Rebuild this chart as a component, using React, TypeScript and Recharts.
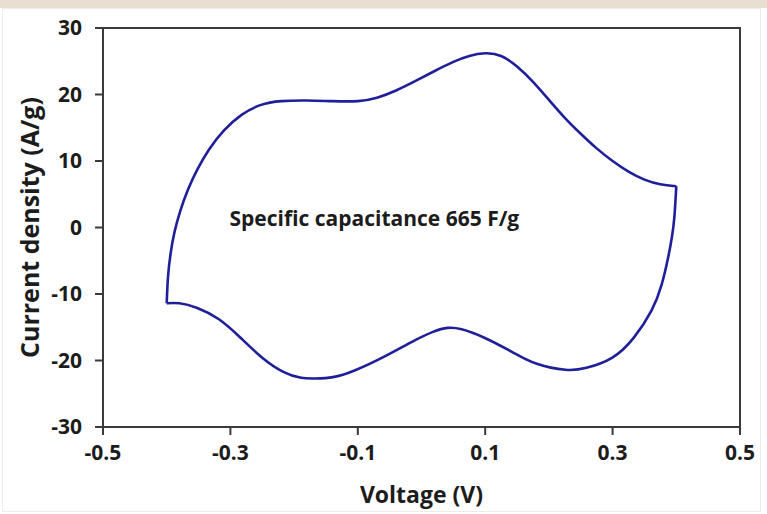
import React from "react";
import { LineChart, Line, XAxis, YAxis, ReferenceArea, ReferenceDot } from "recharts";

// Anodic (upper) branch, -0.4 V -> 0.4 V
const upperVoltage = [-0.4, -0.398, -0.394, -0.388, -0.379, -0.367, -0.352, -0.333, -0.31, -0.283, -0.253, -0.22, -0.18, -0.14, -0.1, -0.07, -0.04, -0.01, 0.02, 0.05, 0.075, 0.1, 0.125, 0.15, 0.175, 0.2, 0.225, 0.25, 0.275, 0.3, 0.325, 0.35, 0.375, 0.4];
const upperCurrent = [-11.4, -7.5, -4.0, -0.8, 2.4, 5.6, 8.7, 11.8, 14.6, 16.9, 18.4, 19.0, 19.1, 19.0, 19.0, 19.5, 20.6, 22.0, 23.5, 24.9, 25.8, 26.2, 25.8, 24.2, 21.9, 19.2, 16.5, 14.1, 11.9, 10.0, 8.4, 7.2, 6.5, 6.2];

// Cathodic (lower) branch, 0.4 V -> -0.4 V
const lowerVoltage = [0.4, 0.397, 0.393, 0.387, 0.377, 0.361, 0.333, 0.299, 0.259, 0.226, 0.181, 0.142, 0.097, 0.063, 0.041, 0.018, -0.015, -0.06, -0.105, -0.139, -0.167, -0.189, -0.217, -0.251, -0.285, -0.318, -0.352, -0.38, -0.4];
const lowerCurrent = [6.2, 1.6, -1.5, -4.6, -8.6, -12.5, -16.6, -19.6, -21.1, -21.4, -20.5, -18.7, -16.5, -15.3, -15.1, -15.7, -17.2, -19.5, -21.5, -22.5, -22.7, -22.6, -21.7, -19.5, -16.5, -13.8, -12.1, -11.4, -11.4];

const xTicks = [-0.5, -0.3, -0.1, 0.1, 0.3, 0.5];
const yTicks = [-30, -20, -10, 0, 10, 20, 30];

const annotation = "Specific capacitance 665 F/g";
const xTitle = "Voltage (V)";
const yTitle = "Current density (A/g)";

const upperData = upperVoltage.map((v, k) => ({ v, i: upperCurrent[k] }));
const lowerData = lowerVoltage.map((v, k) => ({ v, i: lowerCurrent[k] }));

const FONT = "'Open Sans', sans-serif";
const TEXT = "#1c1c1c";
const AXIS = "#3a3a3a";
const CURVE = "#1f1f99";

export default function App() {
  return (
    <div style={{ position: "absolute", left: 0, top: 0, width: 767, height: 514, background: "#ffffff", overflow: "hidden" }}>
      <div style={{ position: "absolute", left: 0, top: 0, width: 767, height: 8, background: "#e8dfd1" }} />
      <div style={{ position: "absolute", left: 2, top: 8, width: 759, height: 504, border: "1px solid #ececec", boxSizing: "border-box" }} />
      <div style={{ position: "absolute", left: 0, top: 0 }}>
        <LineChart width={767} height={514} margin={{ top: 28, right: 27, bottom: 0, left: 0 }}>
          <XAxis
            type="number"
            dataKey="v"
            domain={[-0.5, 0.5]}
            ticks={xTicks}
            allowDataOverflow
            tickFormatter={(x: number) => x.toFixed(1)}
            height={87}
            tickSize={8}
            tickMargin={10}
            stroke={AXIS}
            strokeWidth={2}
            tick={{ fill: TEXT, fontSize: 21, fontWeight: 700, fontFamily: FONT }}
            label={{ value: xTitle, position: "insideBottom", offset: 11, style: { fill: TEXT, fontSize: 23, fontWeight: 700, fontFamily: FONT } }}
          />
          <YAxis
            type="number"
            dataKey="i"
            domain={[-30, 30]}
            ticks={yTicks}
            allowDataOverflow
            width={103}
            tickSize={8}
            tickMargin={13}
            stroke={AXIS}
            strokeWidth={2}
            tick={{ fill: TEXT, fontSize: 21, fontWeight: 700, fontFamily: FONT }}
            label={{ value: yTitle, angle: -90, position: "insideLeft", offset: 30, style: { textAnchor: "middle", fill: TEXT, fontSize: 25, fontWeight: 700, fontFamily: FONT } }}
          />
          <ReferenceArea x1={-0.5} x2={0.5} y1={-30} y2={30} fill="none" fillOpacity={0} stroke={AXIS} strokeWidth={2} ifOverflow="visible" />
          <Line data={upperData} dataKey="i" type="natural" stroke={CURVE} strokeWidth={2.6} dot={false} isAnimationActive={false} />
          <Line data={lowerData} dataKey="i" type="natural" stroke={CURVE} strokeWidth={2.6} dot={false} isAnimationActive={false} />
          <ReferenceDot
            x={-0.074}
            y={1.3}
            r={0}
            fill="none"
            stroke="none"
            label={{ value: annotation, position: "center", style: { fill: TEXT, fontSize: 21, fontWeight: 700, fontFamily: FONT } }}
          />
        </LineChart>
      </div>
    </div>
  );
}
